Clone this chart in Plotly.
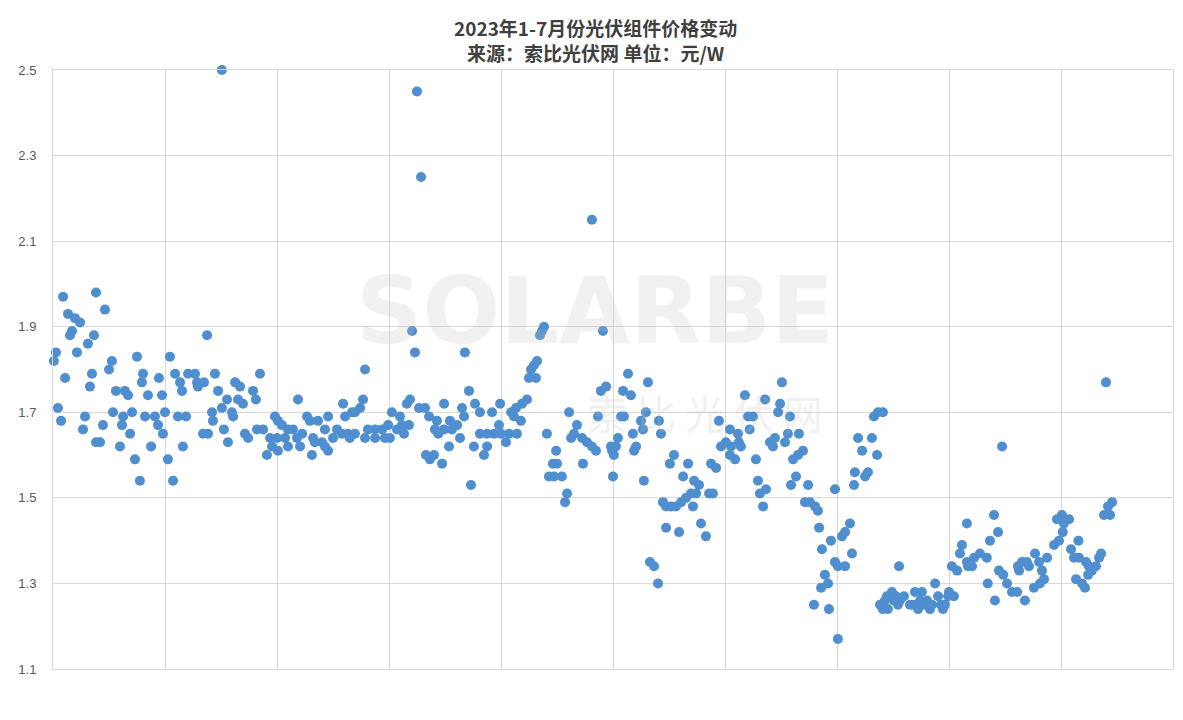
import plotly.graph_objects as go

# (sample index, price 元/W)
seg_a = [(0.4,1.82),(1.3,1.84),(2.2,1.71),(3.6,1.68),(4.5,1.97),(19.2,1.98),(6.7,1.93),(9.8,1.92),(12.1,1.91),
         (23.2,1.94),(8.5,1.89),(7.6,1.88),(18.3,1.88),(15.6,1.86),(10.7,1.84),(26.3,1.82),(37.5,1.83),(25.0,1.80),
         (5.4,1.78),(17.4,1.79),(16.5,1.76),(40.2,1.79),(39.7,1.77),(47.3,1.78),(28.1,1.75),(32.1,1.75),(33.5,1.74),
         (42.4,1.74),(48.7,1.74),(14.3,1.69),(13.4,1.66),(22.3,1.67),(26.8,1.70),(31.3,1.69),(35.3,1.70),(30.8,1.67),
         (41.1,1.69),(45.5,1.69),(46.9,1.67),(50.0,1.70),(34.4,1.65),(49.1,1.65),(21.0,1.63),(29.9,1.62),(43.8,1.62),
         (36.6,1.59),(38.8,1.54),(51.3,1.59),(19.2,1.63),
         (68.8,1.88),(52.2,1.83),(54.5,1.79),(56.7,1.77),(57.6,1.75),(60.3,1.79),(63.4,1.79),(64.3,1.77),(64.7,1.76),
         (67.4,1.77),(72.3,1.79),(73.7,1.75),(81.3,1.77),(83.5,1.76),(82.6,1.73),(84.8,1.72),(89.3,1.75),(90.6,1.73),
         (92.4,1.79),(77.7,1.73),(75.4,1.71),(71.0,1.70),(71.4,1.68),(79.9,1.70),(80.4,1.69),(55.8,1.69),(59.4,1.69),
         (67.0,1.65),(69.2,1.65),(76.3,1.66),(85.7,1.65),(87.1,1.64),(91.1,1.66),(93.8,1.66),(99.1,1.69),(96.9,1.64),
         (97.8,1.62),(58.0,1.62),(78.1,1.63),(95.5,1.60),(53.6,1.54),(75.4,2.50)]

seg_b = [(139.3,1.80),(109.4,1.73),(129.5,1.72),(138.4,1.73),(137.1,1.71),(134.8,1.70),(133.5,1.70),(100.4,1.68),
         (102.2,1.67),(104.9,1.66),(107.1,1.66),(111.2,1.65),(113.4,1.69),(114.7,1.68),(118.3,1.68),(122.8,1.69),
         (121.4,1.66),(130.4,1.69),(126.8,1.66),(129.0,1.65),(131.7,1.65),(134.8,1.65),(140.6,1.66),(143.8,1.66),
         (146.9,1.66),(149.6,1.67),(151.3,1.70),(100.0,1.64),(103.6,1.64),(108.9,1.64),(116.1,1.64),(120.1,1.63),
         (125.0,1.64),(132.5,1.64),(139.3,1.64),(143.8,1.64),(100.4,1.61),(104.9,1.62),(110.3,1.62),(116.9,1.63),
         (121.4,1.62),(122.8,1.61),(115.6,1.60),(148.2,1.64),(150.4,1.64),
         (160.3,1.89),(161.6,1.84),(183.9,1.84),(185.7,1.75),(158.0,1.72),(159.4,1.73),(163.4,1.71),(166.1,1.71),
         (167.9,1.69),(174.6,1.72),(182.6,1.71),(183.5,1.69),(188.4,1.72),(190.6,1.70),(196.0,1.70),(199.6,1.72),
         (154.9,1.69),(155.8,1.67),(153.6,1.66),(158.9,1.67),(156.7,1.65),(171.4,1.68),(177.2,1.68),(170.5,1.66),
         (174.6,1.66),(178.1,1.66),(180.4,1.67),(181.7,1.64),(172.0,1.65),(176.8,1.62),(187.9,1.62),(190.6,1.65),
         (193.8,1.65),(196.9,1.65),(199.1,1.67),(193.8,1.62),(192.4,1.60),(166.5,1.60),(168.3,1.59),(170.1,1.60),
         (173.7,1.58),(186.6,1.53),(162.5,2.45),(164.3,2.25)]

seg_c = [(219.2,1.90),(218.3,1.89),(217.4,1.88),(245.5,1.89),(216.1,1.82),(214.7,1.81),(213.4,1.80),(212.5,1.78),
         (215.6,1.78),(211.6,1.73),(209.4,1.72),(206.7,1.71),(204.5,1.70),(205.8,1.69),(246.9,1.76),(244.6,1.75),
         (230.4,1.70),(243.3,1.69),(203.6,1.65),(207.1,1.65),(208.9,1.68),(200.0,1.65),(202.2,1.63),(220.5,1.65),
         (233.9,1.67),(232.6,1.65),(231.3,1.64),(236.2,1.64),(238.4,1.63),(240.6,1.62),(242.4,1.61),(249.1,1.62),
         (249.6,1.61),(224.6,1.61),(223.2,1.58),(225.0,1.58),(221.4,1.55),(223.7,1.55),(227.2,1.55),(236.6,1.58),
         (250.0,1.55),(229.5,1.51),(228.6,1.49),(240.6,2.15),
         (256.7,1.79),(265.6,1.77),(254.5,1.75),(258.0,1.74),(253.6,1.69),(254.9,1.69),(264.7,1.70),(262.5,1.68),
         (263.4,1.66),(270.5,1.68),(271.4,1.65),(258.9,1.65),(252.2,1.64),(251.3,1.62),(250.4,1.60),(260.3,1.62),
         (259.4,1.61),(263.8,1.54),(277.2,1.60),(275.4,1.58),(283.5,1.58),(281.3,1.55),(286.2,1.54),(288.4,1.53),
         (287.1,1.51),(284.8,1.51),(282.6,1.50),(280.4,1.49),(278.1,1.48),(275.9,1.48),(273.7,1.48),(272.3,1.49),
         (285.7,1.48),(293.8,1.58),(296.0,1.57),(294.6,1.51),(292.9,1.51),(297.3,1.68),(298.2,1.62),(300.4,1.63),
         (273.7,1.43),(279.5,1.42),(289.3,1.44),(291.5,1.41),(266.5,1.35),(268.3,1.34),(270.1,1.30)]

seg_d = [(325.4,1.77),(308.9,1.74),(317.9,1.73),(324.6,1.72),(323.7,1.70),(310.3,1.69),(312.5,1.69),(329.0,1.69),
         (302.2,1.66),(305.8,1.65),(311.0,1.66),(302.7,1.62),(306.2,1.63),(307.1,1.62),(302.2,1.60),(304.5,1.59),
         (320.1,1.63),(321.4,1.62),(322.3,1.64),(326.8,1.63),(328.1,1.65),(333.0,1.65),(334.8,1.61),(332.6,1.60),
         (330.4,1.59),(313.8,1.59),(331.7,1.55),(329.5,1.53),(337.1,1.53),(314.7,1.54),(315.6,1.51),(318.3,1.52),
         (317.0,1.48),(349.1,1.52),(335.7,1.49),(337.9,1.49),(340.2,1.48),(341.5,1.47),(342.0,1.43),(347.3,1.40),
         (343.3,1.38),(349.1,1.35),(350.4,1.34),(344.6,1.32),(346.0,1.30),(342.9,1.29),(339.7,1.25),(346.4,1.24),
         (350.4,1.17),
         (368.3,1.70),(370.5,1.70),(366.5,1.69),(359.4,1.64),(365.6,1.64),(361.2,1.61),(367.9,1.60),(358.0,1.56),
         (363.8,1.56),(362.5,1.55),(357.6,1.53),(355.8,1.44),(353.6,1.42),(352.2,1.41),(356.7,1.37),(353.6,1.34),
         (377.7,1.34),(369.2,1.25),(370.5,1.24),(371.4,1.26),(372.7,1.24),(374.5,1.28),(375.4,1.26),(377.2,1.25),
         (378.1,1.26),(379.9,1.27),(382.6,1.25),(383.9,1.25),(384.8,1.28),(386.2,1.24),(387.1,1.26),(387.9,1.28),
         (389.3,1.25),(390.2,1.26),(391.5,1.24),(392.4,1.25),(393.8,1.30),(395.1,1.27),(396.4,1.25),(397.3,1.24),
         (398.2,1.25),(399.6,1.27),(372.3,1.27),(376.3,1.27)]

seg_e = [(423.7,1.62),(408.0,1.44),(420.1,1.46),(421.9,1.42),(418.3,1.40),(405.8,1.39),(404.9,1.37),(408.0,1.35),
         (411.2,1.36),(413.8,1.37),(416.9,1.36),(410.3,1.34),(401.3,1.34),(403.6,1.33),(408.5,1.34),(417.3,1.30),
         (422.3,1.33),(424.2,1.32),(425.9,1.30),(428.1,1.28),(430.4,1.28),(433.9,1.26),(420.5,1.26),(400.0,1.28),
         (402.2,1.27),(430.8,1.34),(432.6,1.35),(434.8,1.35),(435.7,1.34),(438.4,1.37),(440.2,1.35),(441.5,1.33),
         (442.4,1.31),(440.6,1.30),(437.9,1.29),(443.8,1.36),(446.9,1.39),(449.1,1.40),(448.2,1.45),(450.4,1.46),
         (431.3,1.33),
         (470.1,1.77),(472.8,1.49),(471.0,1.48),(469.2,1.46),(471.9,1.46),(453.6,1.45),(451.3,1.44),(450.8,1.42),
         (457.8,1.40),(454.5,1.38),(455.8,1.36),(458.0,1.36),(461.2,1.35),(462.5,1.34),(463.8,1.33),(465.6,1.34),
         (467.9,1.37),(467.0,1.36),(462.1,1.32),(456.7,1.31),(459.4,1.30),(460.7,1.29)]

y_ticks = [1.1, 1.3, 1.5, 1.7, 1.9, 2.1, 2.3, 2.5]
title_line1 = "2023年1-7月份光伏组件价格变动"
title_line2 = "来源：索比光伏网 单位：元/W"

points = seg_a + seg_b + seg_c + seg_d + seg_e
xs = [p[0] for p in points]
ys = [p[1] for p in points]

fig = go.Figure()
fig.add_trace(go.Scatter(
    x=xs, y=ys, mode="markers", cliponaxis=False,
    marker=dict(size=10, color="#4f8fcf", line=dict(width=0)),
    showlegend=False,
))

grid = "#d9d9d9"
fig.update_layout(
    width=1175, height=712,
    margin=dict(l=45, r=10, t=62, b=51, autoexpand=False),
    paper_bgcolor="white", plot_bgcolor="white",
    xaxis=dict(range=[0, 500], tick0=0, dtick=50, showgrid=True, gridcolor=grid, gridwidth=1,
               showticklabels=False, zeroline=False, showline=True, linecolor=grid, mirror=True,
               automargin=False),
    yaxis=dict(range=[1.1, 2.5], tickvals=y_ticks, ticktext=[f"{v:.1f}" for v in y_ticks],
               showgrid=True, gridcolor=grid, gridwidth=1, zeroline=False, showline=True,
               linecolor=grid, mirror=True, ticks="", ticklabelstandoff=13, automargin=False,
               tickfont=dict(family="Liberation Sans, Arial", size=13, color="#595959")),
    font=dict(family="Noto Sans CJK SC"),
)

# watermark
fig.add_annotation(x=242, y=1.935, xref="x", yref="y", text="<b>SOLARBE</b>", showarrow=False,
                   font=dict(family="DejaVu Sans", size=92, color="rgba(190,190,190,0.22)"))
fig.add_annotation(x=291, y=1.70, xref="x", yref="y", text="索 比 光 伏 网", showarrow=False,
                   font=dict(family="Noto Sans CJK SC", size=40, color="rgba(190,190,190,0.22)"))

# two-line title
fig.add_annotation(x=0.484, y=1 + 30/599, xref="paper", yref="paper", yanchor="middle",
                   text="<b>" + title_line1 + "</b><br><b>" + title_line2 + "</b>", showarrow=False,
                   font=dict(family="Noto Sans CJK SC", size=19, color="#404040"))

fig.write_html("out.html")
